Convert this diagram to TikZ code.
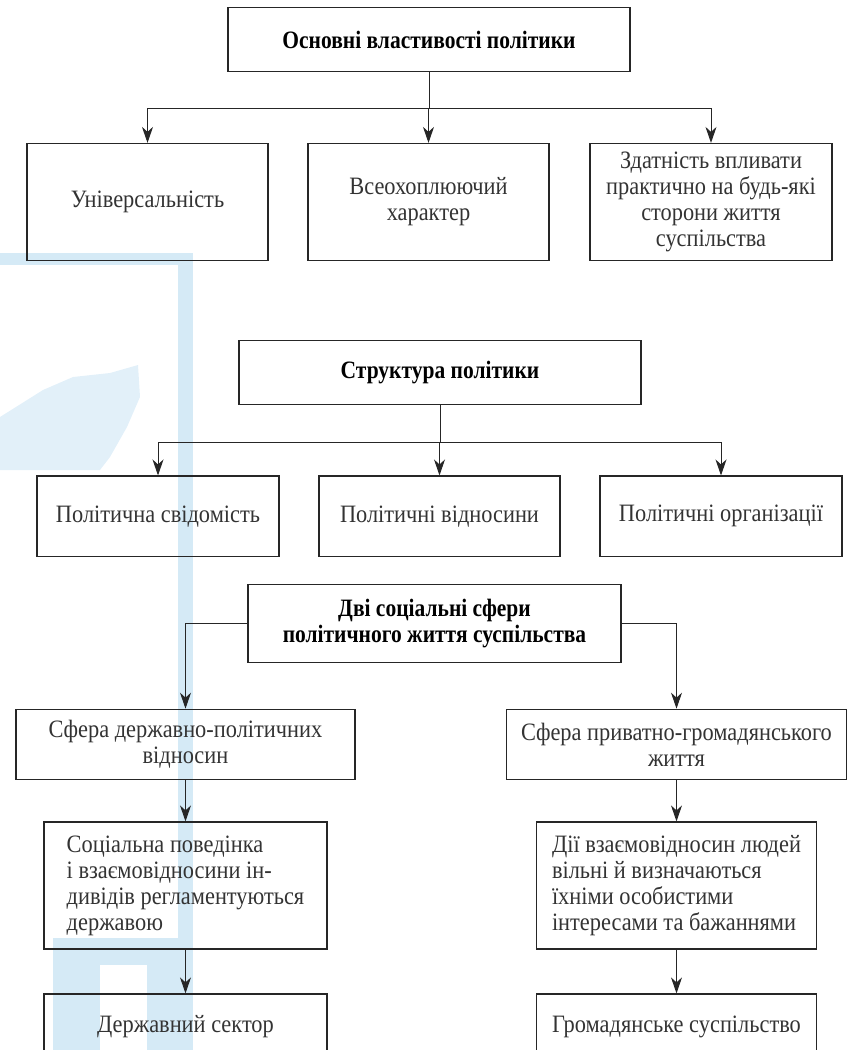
\documentclass[tikz,border=0pt]{standalone}
\usepackage{fontspec}
\setmainfont{Liberation Serif}[FakeStretch=0.895, BoldFeatures={FakeStretch=0.86}]
\usetikzlibrary{arrows.meta}
\definecolor{wmblue}{HTML}{D5EAF6}
\definecolor{wmlight}{HTML}{E2F0F9}

\tikzset{
  box/.style={draw=black!85, line width=1.2pt, inner sep=0pt, align=center,
              font=\fontsize{25}{26}\selectfont, text=black!80},
  headbox/.style={box, font=\bfseries\fontsize{25}{26}\selectfont, text=black},
  leftbox/.style={box, align=left},
  arr/.style={line width=1pt, draw=black!85, -{Stealth[length=16pt,width=11pt,inset=5pt]}}
}

\begin{document}
\begin{tikzpicture}[x=1pt,y=-1pt]
    \useasboundingbox (0,0) rectangle (850,1050);
    \clip (0,0) rectangle (850,1050);

    % watermark
    \fill[wmblue] (0,253) rectangle (193,265);
    \fill[wmblue] (178,265) rectangle (193,938);
    \fill[wmblue] (53,938) rectangle (193,965);
    \fill[wmblue] (53,965) rectangle (100,1050);
    \fill[wmblue] (147,965) rectangle (193,1050);
    \fill[wmlight] (0,417) -- (43,390) -- (73,377) -- (110,373) -- (138,365)
        -- (140,397) -- (127,427) -- (110,457) -- (100,470) -- (0,470) -- cycle;

    % Основні властивості
    \node[headbox, minimum width=402pt, minimum height=64pt] (osn) at (429,39.5)
        {Основні властивості політики};

    \node[box, minimum width=241pt, minimum height=117pt] (univ) at (147.5,202)
        {Універсальність};
    \node[box, minimum width=241pt, minimum height=117pt] (vseo) at (428.5,202)
        {Всеохоплюючий\\характер};
    \node[box, minimum width=242pt, minimum height=117pt] (zdat) at (711,202)
        {Здатність впливати\\практично на будь-які\\сторони життя\\суспільства};

    \foreach \bx in {univ,vseo,zdat}
        \draw[arr] (osn.south) -- ++(0,36.8) -| (\bx.north);

    % Структура
    \node[headbox, minimum width=402pt, minimum height=64pt] (strukt) at (440,372.3)
        {Структура політики};

    \node[box, minimum width=242pt, minimum height=80.5pt] (svid) at (158,516.3)
        {Політична свідомість};
    \node[box, minimum width=241pt, minimum height=80.5pt] (vidn) at (439.5,516.3)
        {Політичні відносини};
    \node[box, minimum width=242pt, minimum height=80.5pt] (org) at (721,516.3)
        {Політичні організації};

    \foreach \bx in {svid,vidn,org}
        \draw[arr] (strukt.south) -- ++(0,37.2) -| (\bx.north);

    % Дві сфери
    \node[headbox, minimum width=373pt, minimum height=77.5pt] (dvi) at (434.5,623.5)
        {Дві соціальні сфери\\політичного життя суспільства};

    \node[box, minimum width=339pt, minimum height=70.5pt] (sfd) at (185.5,744.5)
        {Сфера державно-політичних\\відносин};
    \node[box, minimum width=340pt, minimum height=70.5pt] (sfp) at (676.5,744.5)
        {Сфера приватно-громадянського\\життя};

    \node[leftbox, minimum width=283pt, minimum height=127pt] (soc) at (185.5,885.5)
        {Соціальна поведінка\\і взаємовідносини ін-\\дивідів регламентуються\\державою};
    \node[leftbox, minimum width=280pt, minimum height=127pt] (dii) at (676.5,885.5)
        {Дії взаємовідносин людей\\вільні й визначаються\\їхніми особистими\\інтересами та бажаннями};

    \node[box, minimum width=283pt, minimum height=66pt] (derzh) at (185.5,1027)
        {Державний сектор};
    \node[box, minimum width=280pt, minimum height=66pt] (hrom) at (676.5,1027)
        {Громадянське суспільство};

    \draw[arr] (dvi.west) -| (sfd.north);
    \draw[arr] (dvi.east) -| (sfp.north);
    \draw[arr] (sfd.south) -- (soc.north);
    \draw[arr] (sfp.south) -- (dii.north);
    \draw[arr] (soc.south) -- (derzh.north);
    \draw[arr] (dii.south) -- (hrom.north);

\end{tikzpicture}
\end{document}
